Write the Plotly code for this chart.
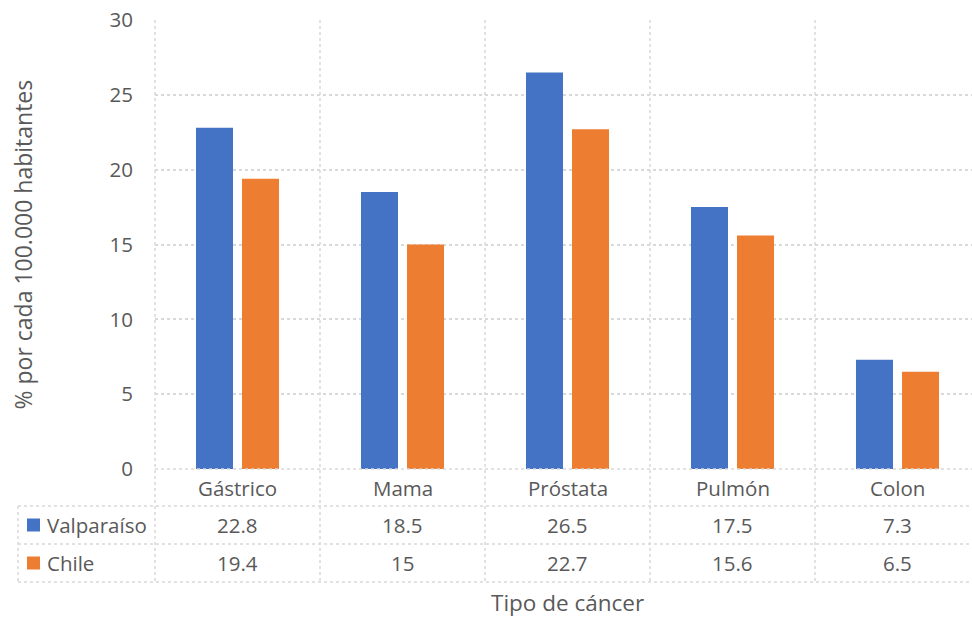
import plotly.graph_objects as go

# Cancer incidence data (per 100.000 inhabitants)
categorias = ["Gástrico", "Mama", "Próstata", "Pulmón", "Colon"]
valparaiso = [22.8, 18.5, 26.5, 17.5, 7.3]
chile = [19.4, 15, 22.7, 15.6, 6.5]
series_nombres = ["Valparaíso", "Chile"]
series_valores = [valparaiso, chile]
colores = ["#4472C4", "#ED7D31"]
y_ticks = [0, 5, 10, 15, 20, 25, 30]

# Page geometry (pixels)
W, H = 972, 617
L, R, T, B = 155, 0, 20, 148
plot_w = W - L - R
plot_h = H - T - B
cat_px = 165                      # width of one category column
x_min = -0.5
x_max = x_min + plot_w / cat_px   # last column runs past the right edge

GRID = "#d9d9d9"
TXT = "#595959"
FONT = "Open Sans"


def px_x(px):
    return (px - L) / plot_w


def px_y(py):
    return (H - B - py) / plot_h


def cat_x(i):
    # paper x of a category position i (can be a boundary like i - 0.5)
    return (i - x_min) / (x_max - x_min)


fig = go.Figure()
for nombre, valores, color in zip(series_nombres, series_valores, colores):
    fig.add_trace(go.Bar(
        x=categorias, y=valores, name=nombre,
        marker=dict(color=color, line=dict(width=0)),
        showlegend=False,
    ))

shapes = []
annotations = []

line = dict(color=GRID, width=1.5, dash="dot")

# Data-table rows below the plot
row_edges = [469, 506, 544, 582]
row_centers = [488, 525, 563]

# horizontal table lines
shapes.append(dict(type="line", xref="paper", yref="paper",
                   x0=px_x(L), x1=1, y0=px_y(row_edges[0]), y1=px_y(row_edges[0]), line=line))
for py in row_edges[1:]:
    shapes.append(dict(type="line", xref="paper", yref="paper",
                       x0=px_x(18), x1=1, y0=px_y(py), y1=px_y(py), line=line))

# vertical lines at category boundaries, through plot and table
for i in range(len(categorias)):
    xb = cat_x(i - 0.5)
    shapes.append(dict(type="line", xref="paper", yref="paper",
                       x0=xb, x1=xb, y0=1, y1=px_y(row_edges[-1]), line=line))
# left edge of the series rows
shapes.append(dict(type="line", xref="paper", yref="paper",
                   x0=px_x(18), x1=px_x(18), y0=px_y(row_edges[1]), y1=px_y(row_edges[-1]), line=line))

# category labels
for c in categorias:
    annotations.append(dict(x=c, xref="x", y=px_y(row_centers[0]), yref="paper",
                            text=c, showarrow=False, xanchor="center", yanchor="middle",
                            font=dict(size=20.5, color=TXT, family=FONT)))

# series rows: legend key, name, values
for k, (nombre, valores, color) in enumerate(zip(series_nombres, series_valores, colores)):
    yc = row_centers[k + 1]
    shapes.append(dict(type="rect", xref="paper", yref="paper",
                       x0=px_x(27), x1=px_x(40), y0=px_y(yc - 6.5), y1=px_y(yc + 6.5),
                       fillcolor=color, line=dict(width=0)))
    annotations.append(dict(x=px_x(45), xref="paper", y=px_y(yc), yref="paper",
                            text=nombre, showarrow=False, xanchor="left", yanchor="middle",
                            font=dict(size=20.5, color=TXT, family=FONT)))
    for c, v in zip(categorias, valores):
        annotations.append(dict(x=c, xref="x", y=px_y(yc), yref="paper",
                                text=f"{v:g}", showarrow=False, xanchor="center", yanchor="middle",
                                font=dict(size=20.5, color=TXT, family=FONT)))

# axis titles
annotations.append(dict(x=px_x(22), xref="paper", y=0.5, yref="paper",
                        text="% por cada 100.000 habitantes", textangle=-90, showarrow=False,
                        xanchor="center", yanchor="middle",
                        font=dict(size=23, color=TXT, family=FONT)))
annotations.append(dict(x=px_x(567), xref="paper", y=px_y(602), yref="paper",
                        text="Tipo de cáncer", showarrow=False,
                        xanchor="center", yanchor="middle",
                        font=dict(size=22.5, color=TXT, family=FONT)))

fig.update_layout(
    width=W, height=H,
    margin=dict(l=L, r=R, t=T, b=B, pad=0),
    paper_bgcolor="white", plot_bgcolor="white",
    barmode="group", bargap=0.442, bargroupgap=0.196,
    font=dict(family=FONT, color=TXT, size=20.5),
    shapes=shapes, annotations=annotations,
    xaxis=dict(range=[x_min, x_max], showticklabels=False, showgrid=False,
               zeroline=False, showline=False, ticks=""),
    yaxis=dict(range=[0, 30], tickvals=y_ticks, showgrid=True, gridcolor=GRID,
               gridwidth=1.5, griddash="dot", zeroline=False, showline=False,
               ticks="outside", ticklen=17, tickcolor="rgba(0,0,0,0)",
               tickfont=dict(size=20.5, color=TXT, family=FONT)),
)

fig.write_html("out.html")
